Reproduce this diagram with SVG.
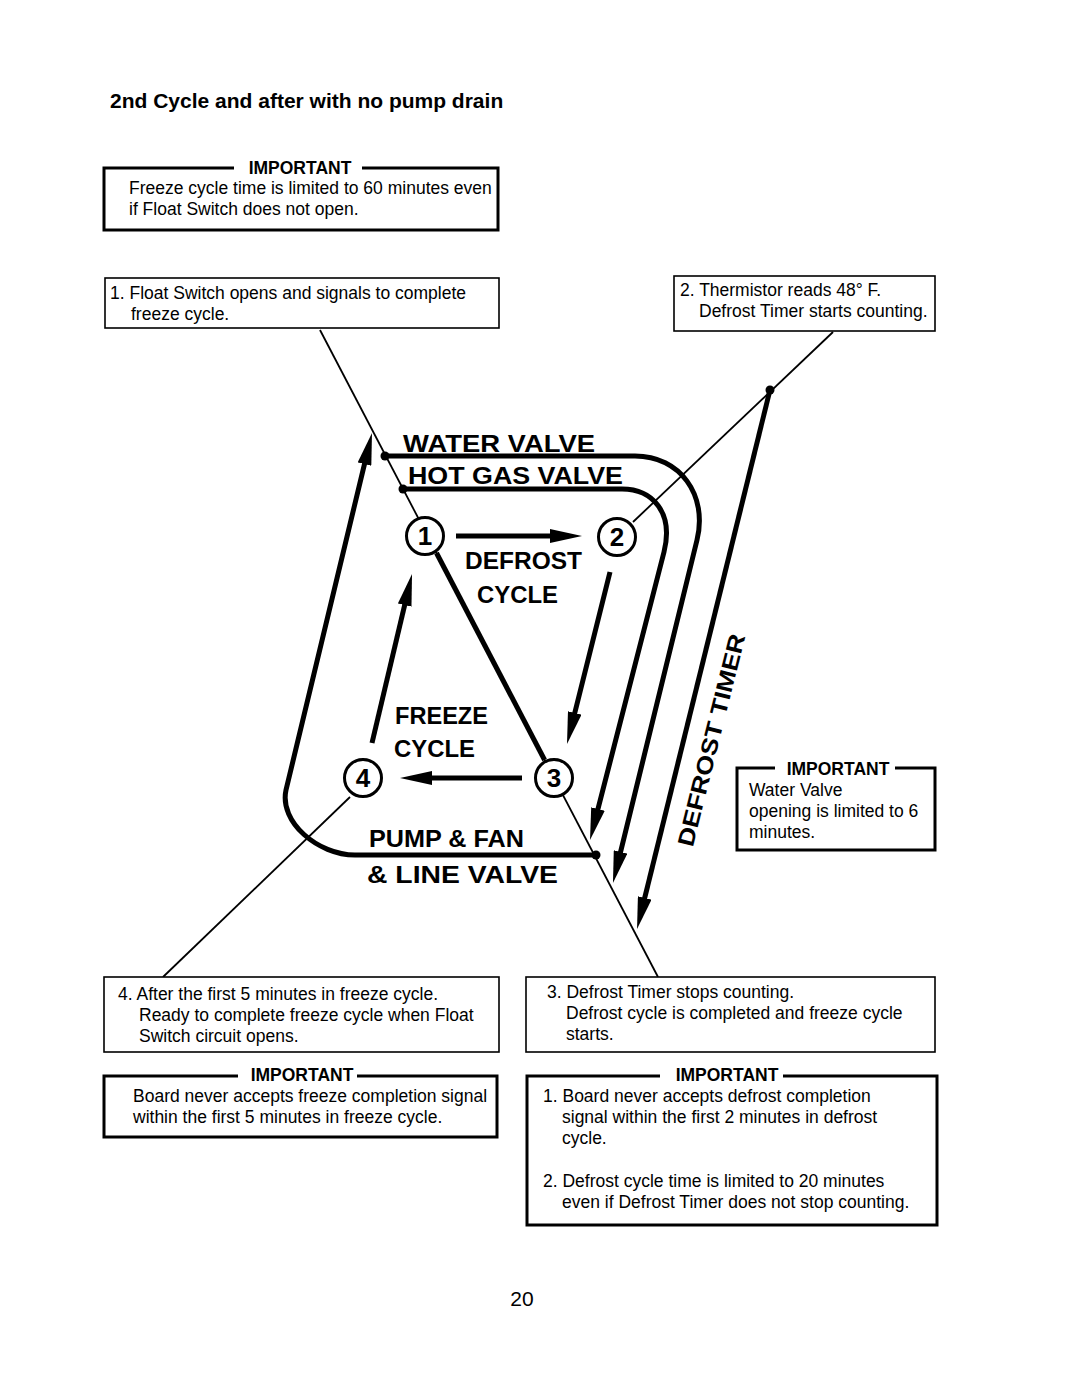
<svg xmlns="http://www.w3.org/2000/svg" width="1080" height="1397" viewBox="0 0 1080 1397">
<defs>
<style>
.t{font-family:"Liberation Sans",Arial,sans-serif;font-size:17.5px;fill:#000}
.hd{font-family:"Liberation Sans",Arial,sans-serif;font-size:17.5px;font-weight:bold;text-anchor:middle;fill:#000}
.lbl{font-family:"Liberation Sans",Arial,sans-serif;font-size:23px;font-weight:bold;fill:#000}
.num{font-family:"Liberation Sans",Arial,sans-serif;font-size:26px;font-weight:bold;text-anchor:middle;fill:#000}
.box{fill:#fff;stroke:#000;stroke-width:1.6}
.ibox{fill:#fff;stroke:#000;stroke-width:3}
.gap{fill:#fff;stroke:none}
.flow{fill:none;stroke:#000;stroke-width:5}
.lead{fill:none;stroke:#000;stroke-width:1.8}
.ring{fill:#fff;stroke:#000;stroke-width:3}
.dot{fill:#000}
</style>
<marker id="ah" viewBox="0 0 32 14" refX="18" refY="7" markerWidth="32" markerHeight="14" markerUnits="userSpaceOnUse" orient="auto">
<path d="M0,0 L32,7 L0,14 Z" fill="#000"/>
</marker>
</defs>
<rect width="1080" height="1397" fill="#fff"/>

<text x="110" y="108" font-family="Liberation Sans,Arial,sans-serif" font-size="21" font-weight="bold">2nd Cycle and after with no pump drain</text>

<g id="imp-top">
<rect class="ibox" x="104" y="168" width="394" height="62"/>
<rect class="gap" x="234" y="160" width="128" height="16"/>
<text class="hd" x="300" y="174">IMPORTANT</text>
<text class="t" x="129" y="194">Freeze cycle time is limited to 60 minutes even</text>
<text class="t" x="129" y="215">if Float Switch does not open.</text>
</g>

<g id="connectors">
<path class="lead" d="M320,330 L658,977"/>
<path class="lead" d="M833,332 L633,522"/>
<path class="lead" d="M350,797 L163,977"/>
<path class="flow" d="M436.5,553 L544.6,760"/>
<path class="flow" d="M596,855 L355,855 C318,855 279,822 286,790 L368.7,446.6" marker-end="url(#ah)"/>
<path class="flow" d="M385,456 L635,456 C680,456 708,495 697,540 L616.3,869.4" marker-end="url(#ah)"/>
<path class="flow" d="M403,489 L622,489 C652,489 674,512 664,552 L593.5,826.4" marker-end="url(#ah)"/>
<path class="flow" d="M770,390 L640.4,915.4" marker-end="url(#ah)"/>
<path class="flow" d="M456,536 L568,536" marker-end="url(#ah)"/>
<path class="flow" d="M610,572 L570.4,730.4" marker-end="url(#ah)"/>
<path class="flow" d="M522,778 L414,778" marker-end="url(#ah)"/>
<path class="flow" d="M372,743 L408.8,587.6" marker-end="url(#ah)"/>
<circle class="dot" cx="385" cy="456" r="4.5"/>
<circle class="dot" cx="403" cy="489" r="4.5"/>
<circle class="dot" cx="596" cy="855" r="4.5"/>
<circle class="dot" cx="770" cy="390" r="4.5"/>
</g>

<g id="labels">
<text class="lbl" x="403" y="452" textLength="192" lengthAdjust="spacingAndGlyphs">WATER  VALVE</text>
<text class="lbl" x="408" y="484" textLength="215" lengthAdjust="spacingAndGlyphs">HOT  GAS  VALVE</text>
<text class="lbl" x="465" y="569" textLength="117" lengthAdjust="spacingAndGlyphs">DEFROST</text>
<text class="lbl" x="477" y="603" textLength="81" lengthAdjust="spacingAndGlyphs">CYCLE</text>
<text class="lbl" x="395" y="724" textLength="93" lengthAdjust="spacingAndGlyphs">FREEZE</text>
<text class="lbl" x="394" y="757" textLength="81" lengthAdjust="spacingAndGlyphs">CYCLE</text>
<text class="lbl" x="369" y="847" textLength="155" lengthAdjust="spacingAndGlyphs">PUMP &amp; FAN</text>
<text class="lbl" x="367" y="883" textLength="191" lengthAdjust="spacingAndGlyphs">&amp;  LINE  VALVE</text>
<text class="lbl" transform="translate(719,742) rotate(-76)" x="0" y="0" text-anchor="middle" font-size="27" textLength="218" lengthAdjust="spacingAndGlyphs">DEFROST  TIMER</text>
</g>

<g id="node-1"><circle class="ring" cx="425" cy="536" r="18.5"/><text class="num" x="425" y="545">1</text></g>
<g id="node-2"><circle class="ring" cx="617" cy="537" r="18.5"/><text class="num" x="617" y="546">2</text></g>
<g id="node-3"><circle class="ring" cx="554" cy="778" r="18.5"/><text class="num" x="554" y="787">3</text></g>
<g id="node-4"><circle class="ring" cx="363" cy="778" r="18.5"/><text class="num" x="363" y="787">4</text></g>

<g id="note-1">
<rect class="box" x="105" y="278" width="394" height="50"/>
<text class="t" x="110" y="299">1. Float Switch opens and signals to complete</text>
<text class="t" x="131" y="320">freeze cycle.</text>
</g>

<g id="note-2">
<rect class="box" x="674" y="276" width="261" height="55"/>
<text class="t" x="680" y="296">2. Thermistor reads 48° F.</text>
<text class="t" x="699" y="317">Defrost Timer starts counting.</text>
</g>

<g id="imp-water">
<rect class="ibox" x="737" y="768" width="198" height="82"/>
<rect class="gap" x="775" y="760" width="120" height="16"/>
<text class="hd" x="838" y="775">IMPORTANT</text>
<text class="t" x="749" y="796">Water Valve</text>
<text class="t" x="749" y="817">opening is limited to 6</text>
<text class="t" x="749" y="838">minutes.</text>
</g>

<g id="note-4">
<rect class="box" x="104" y="977" width="395" height="75"/>
<text class="t" x="118" y="1000">4. After the first 5 minutes in freeze cycle.</text>
<text class="t" x="139" y="1021">Ready to complete freeze cycle when Float</text>
<text class="t" x="139" y="1042">Switch circuit opens.</text>
</g>

<g id="imp-freeze">
<rect class="ibox" x="104" y="1076" width="393" height="61"/>
<rect class="gap" x="238" y="1068" width="119" height="16"/>
<text class="hd" x="302" y="1081">IMPORTANT</text>
<text class="t" x="133" y="1102">Board never accepts freeze completion signal</text>
<text class="t" x="133" y="1123">within the first 5 minutes in freeze cycle.</text>
</g>

<g id="note-3">
<rect class="box" x="526" y="977" width="409" height="75"/>
<text class="t" x="547" y="998">3. Defrost Timer stops counting.</text>
<text class="t" x="566" y="1019">Defrost cycle is completed and freeze cycle</text>
<text class="t" x="566" y="1040">starts.</text>
</g>

<g id="imp-defrost">
<rect class="ibox" x="527" y="1076" width="410" height="149"/>
<rect class="gap" x="660" y="1068" width="123" height="16"/>
<text class="hd" x="727" y="1081">IMPORTANT</text>
<text class="t" x="543" y="1102">1. Board never accepts defrost completion</text>
<text class="t" x="562" y="1123">signal within the first 2 minutes in defrost</text>
<text class="t" x="562" y="1144">cycle.</text>
<text class="t" x="543" y="1187">2. Defrost cycle time is limited to 20 minutes</text>
<text class="t" x="562" y="1208">even if Defrost Timer does not stop counting.</text>
</g>

<text x="522" y="1306" font-family="Liberation Sans,Arial,sans-serif" font-size="21" text-anchor="middle">20</text>
</svg>
